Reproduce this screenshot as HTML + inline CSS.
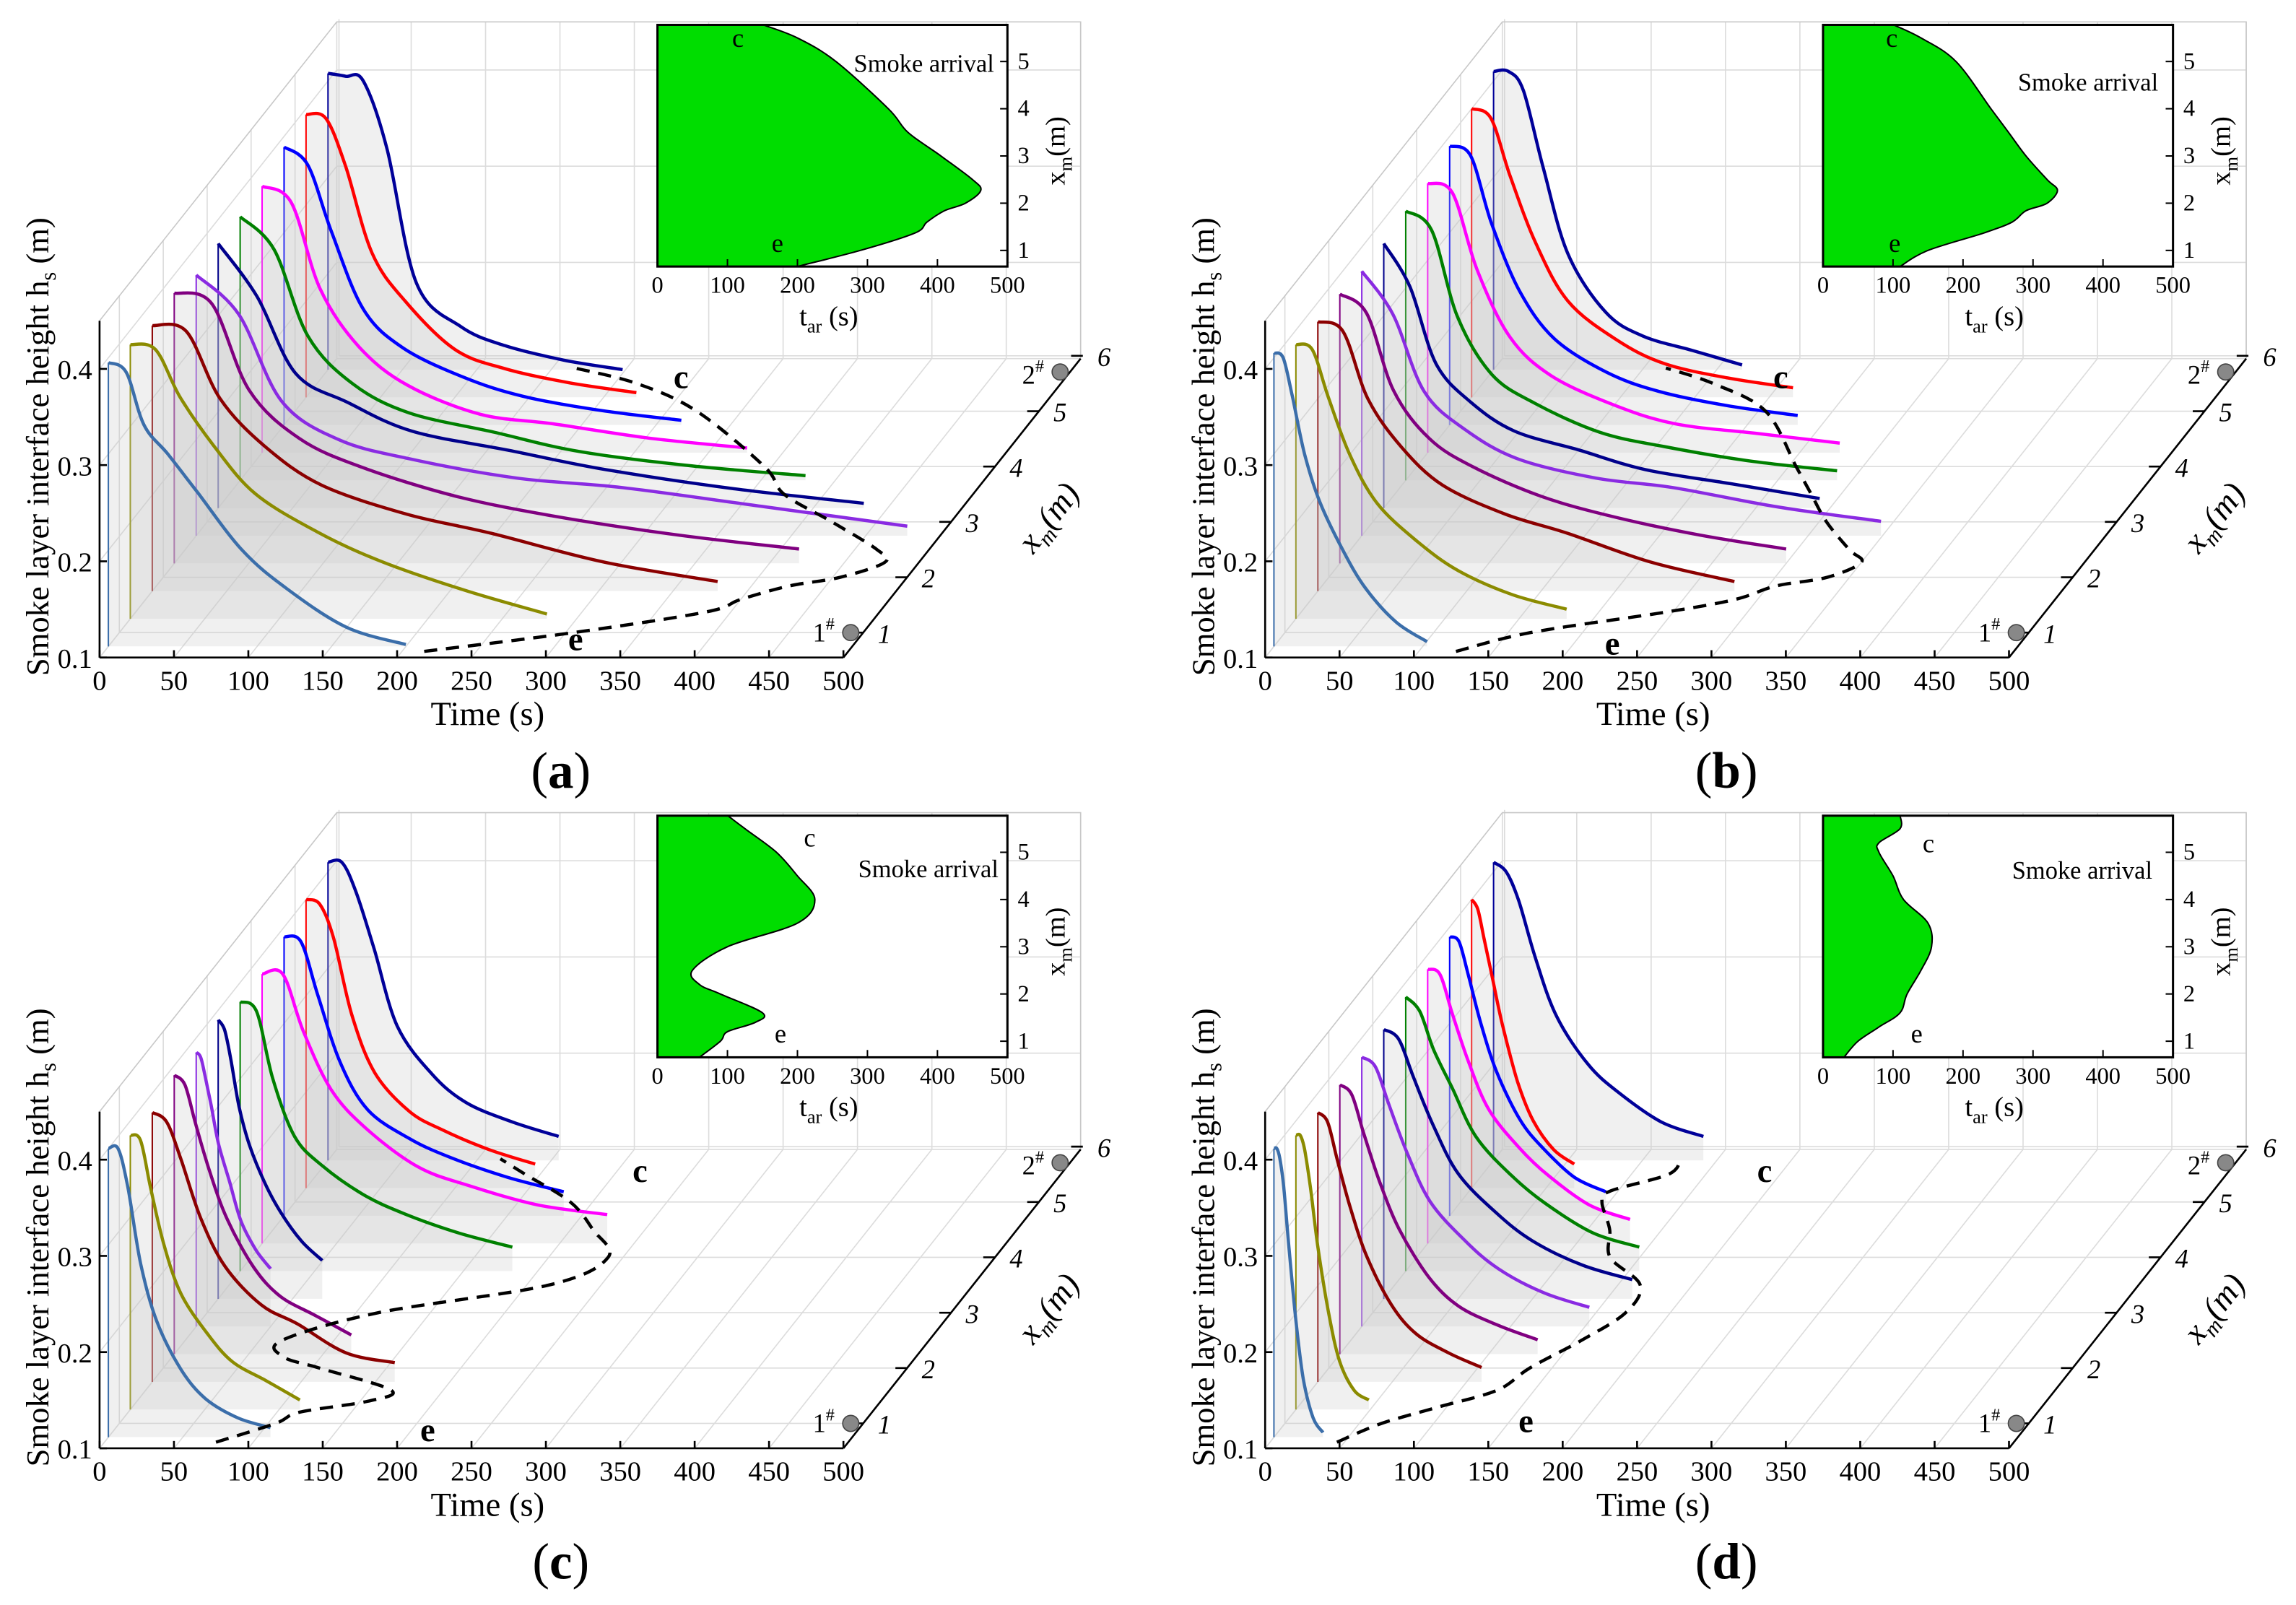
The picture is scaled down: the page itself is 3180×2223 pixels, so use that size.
<!DOCTYPE html>
<html><head><meta charset="utf-8"><style>
html,body{margin:0;padding:0;background:#fff;}
svg{display:block;font-family:"Liberation Serif",serif;}
</style></head><body>
<svg id="fig" xmlns="http://www.w3.org/2000/svg" width="3180" height="2223" viewBox="0 0 1568 1096" preserveAspectRatio="none"></svg>
<script>
// ---- data ----
const colors = ['#3b6eaa','#8b8b00','#8b0000','#800080','#8a2be2','#00008b','#008000','#ff00ff','#0000ff','#ff0000','#000099'];
const curveDepths = [0.75,1.25,1.75,2.25,2.75,3.25,3.75,4.25,4.75,5.25,5.75];
const sampleFractions = [0,0.06,0.12,0.2,0.3,0.45,0.6,0.8,1];
const timeTicks = [0,50,100,150,200,250,300,350,400,450,500];
const heightTicks = [0.1,0.2,0.3,0.4];
const depthTicks = [1,2,3,4,5,6];
const insetTimeTicks = [0,100,200,300,400,500];
const insetDepthTicks = [1,2,3,4,5];

const endsA = [200,280,380,420,478,434,380,326,267,222,198];
const heightsA = [
[.395,.385,.33,.30,.26,.20,.16,.12,.102],
[.385,.38,.33,.28,.23,.19,.16,.13,.105],
[.376,.37,.30,.25,.21,.18,.16,.13,.11],
[.381,.37,.28,.23,.20,.17,.15,.13,.115],
[.371,.33,.24,.20,.18,.16,.15,.13,.11],
[.375,.32,.24,.21,.18,.16,.14,.12,.105],
[.374,.34,.25,.20,.17,.15,.13,.115,.105],
[.377,.36,.27,.21,.17,.14,.13,.115,.105],
[.389,.37,.30,.22,.18,.15,.13,.115,.105],
[.394,.39,.34,.25,.20,.15,.13,.115,.105],
[.408,.405,.40,.33,.19,.145,.125,.11,.10]];
const arrivalDepthA = [0.66,1,1.37,1.6,1.84,2,2.27,2.5,3,3.5,4,5,5.5,5.78];
const arrivalTimeA = [200,290,368,385,410,440,462,450,405,358,330,255,200,150];

const endsB = [103,182,280,300,349,293,290,277,234,216,167];
const heightsB = [
[.405,.40,.36,.30,.25,.20,.16,.125,.105],
[.385,.38,.33,.27,.22,.18,.15,.125,.11],
[.38,.37,.30,.25,.21,.18,.16,.13,.11],
[.38,.36,.28,.23,.20,.17,.15,.13,.115],
[.375,.33,.25,.21,.18,.16,.15,.13,.115],
[.375,.33,.25,.21,.18,.16,.14,.125,.11],
[.38,.36,.27,.21,.18,.15,.135,.12,.11],
[.38,.37,.29,.22,.18,.15,.13,.12,.11],
[.39,.38,.31,.24,.19,.155,.135,.12,.11],
[.40,.39,.33,.26,.20,.16,.135,.12,.11],
[.41,.41,.39,.31,.22,.16,.135,.12,.105]];
const arrivalDepthB = [0.66,1,1.37,1.6,1.84,2,2.27,2.5,3,3.5,4,5,5.5,5.78];
const arrivalTimeB = [110,150,230,270,290,320,335,320,290,265,240,190,140,100];

const endsC = [109,114,163,119,50,70,183,232,188,154,155];
const heightsC = [
[.40,.40,.36,.28,.22,.17,.14,.12,.11],
[.385,.38,.33,.27,.22,.18,.15,.13,.11],
[.38,.37,.33,.27,.22,.18,.16,.13,.12],
[.39,.38,.34,.29,.24,.19,.16,.14,.12],
[.385,.38,.36,.33,.29,.25,.21,.18,.16],
[.39,.38,.35,.30,.26,.22,.19,.16,.14],
[.38,.37,.30,.24,.21,.18,.16,.14,.125],
[.38,.38,.32,.26,.22,.18,.16,.14,.13],
[.39,.385,.33,.26,.21,.18,.16,.14,.125],
[.40,.395,.36,.28,.22,.18,.16,.14,.125],
[.41,.41,.38,.32,.24,.19,.16,.14,.125]];
const arrivalDepthC = [0.66,1,1.2,1.4,1.6,2,2.2,2.5,3,3.5,4,4.5,5,5.5,5.78];
const arrivalTimeC = [60,90,100,140,150,90,60,50,100,200,225,200,170,125,100];

const endsD = [33,49,110,133,153,167,157,136,105,69,141];
const heightsD = [
[.40,.40,.39,.36,.30,.22,.16,.12,.105],
[.385,.385,.37,.33,.27,.20,.15,.12,.11],
[.38,.37,.33,.28,.23,.18,.15,.13,.115],
[.38,.37,.33,.28,.23,.18,.15,.13,.115],
[.38,.37,.33,.28,.23,.19,.16,.135,.12],
[.38,.37,.33,.28,.23,.19,.16,.135,.12],
[.385,.37,.33,.29,.24,.20,.17,.14,.125],
[.385,.38,.34,.29,.24,.20,.17,.14,.125],
[.39,.385,.35,.30,.25,.20,.17,.14,.125],
[.40,.39,.36,.32,.27,.21,.17,.14,.125],
[.41,.40,.37,.31,.25,.20,.17,.14,.125]];
const arrivalDepthD = [0.66,1,1.3,1.6,2,2.5,3,3.5,4,4.5,5,5.2,5.5,5.78];
const arrivalTimeD = [30,50,80,110,120,140,155,150,115,100,80,80,110,110];

// ---- drawing ----
const svg = document.getElementById('fig');
const NS = 'http://www.w3.org/2000/svg';
function mk(tag, attrs, parent){
  const e = document.createElementNS(NS, tag);
  for (const k in attrs) e.setAttribute(k, attrs[k]);
  (parent||svg).appendChild(e);
  return e;
}
function smooth(pts){
  let d = 'M'+pts[0][0].toFixed(1)+','+pts[0][1].toFixed(1);
  for (let i=0;i<pts.length-1;i++){
    const p0=pts[Math.max(0,i-1)], p1=pts[i], p2=pts[i+1], p3=pts[Math.min(pts.length-1,i+2)];
    const c1=[p1[0]+(p2[0]-p0[0])/6, p1[1]+(p2[1]-p0[1])/6];
    const c2=[p2[0]-(p3[0]-p1[0])/6, p2[1]-(p3[1]-p1[1])/6];
    d += ' C'+c1[0].toFixed(1)+','+c1[1].toFixed(1)+' '+c2[0].toFixed(1)+','+c2[1].toFixed(1)+' '+p2[0].toFixed(1)+','+p2[1].toFixed(1);
  }
  return d;
}

function drawPanel(ox, oy, letter, ends, heights, arrD, arrT, lbl){
  const g = mk('g', {});
  
  
  const X = (t,d) => ox + 68 + t*1.016 + (d-0.55)*30;
  const Y = (h,d) => oy + 449 - (d-0.55)*37.8 - (h-0.1)*657;
  const D0 = 0.55, D1 = 5.95, HT = 0.45;
  const grid = mk('g', {stroke:'#dcdcdc','stroke-width':0.8, fill:'none'}, g);
  
  
  timeTicks.forEach(t => {
    mk('line', {x1:X(t,D0), y1:Y(0.1,D0), x2:X(t,D1), y2:Y(0.1,D1)}, grid);
    mk('line', {x1:X(t,D1), y1:Y(0.1,D1), x2:X(t,D1), y2:Y(HT,D1)}, grid);
  });
  heightTicks.forEach(h => {
    mk('line', {x1:X(0,D0), y1:Y(h,D0), x2:X(0,D1), y2:Y(h,D1)}, grid);
    mk('line', {x1:X(0,D1), y1:Y(h,D1), x2:X(500,D1), y2:Y(h,D1)}, grid);
  });
  depthTicks.forEach(d => {
    mk('line', {x1:X(0,d), y1:Y(0.1,d), x2:X(500,d), y2:Y(0.1,d)}, grid);
    mk('line', {x1:X(0,d), y1:Y(0.1,d), x2:X(0,d), y2:Y(HT,d)}, grid);
  });
  mk('polyline', {points:[X(0,D0),Y(HT,D0),X(0,D1),Y(HT,D1),X(500,D1),Y(HT,D1),X(500,D1),Y(0.1,D1)].join(' '), stroke:'#c8c8c8'}, grid);

  for (let i = curveDepths.length-1; i >= 0; i--){
    const d = curveDepths[i];
    const pts = sampleFractions.map((u,k) => [X(u*ends[i], d), Y(heights[i][k], d)]);
    const path = smooth(pts);
    const fill = mk('path', {d: path+' L'+X(ends[i],d).toFixed(1)+','+Y(0.1,d).toFixed(1)+' L'+X(0,d).toFixed(1)+','+Y(0.1,d).toFixed(1)+' Z', fill:'rgba(200,200,200,0.28)', stroke:'none'}, g);
    
    
    const vl = mk('line', {x1:X(0,d), y1:Y(0.1,d), x2:X(0,d), y2:Y(heights[i][0],d), stroke:colors[i], 'stroke-width':1}, g);
    
    
    const cv = mk('path', {d:path, fill:'none', stroke:colors[i], 'stroke-width':2.2}, g);
    
    
  }
  const env = mk('path', {d: smooth(arrD.map((dd,k)=>[X(arrT[k]+15,dd), Y(0.1,dd)])), fill:'none', stroke:'#000', 'stroke-width':2.2, 'stroke-dasharray':'9,6'}, g);
  
  

  const ax = mk('g', {stroke:'#000','stroke-width':1.3, fill:'none'}, g);
  
  
  mk('line', {x1:X(0,D0), y1:Y(0.1,D0), x2:X(500,D0), y2:Y(0.1,D0)}, ax);
  mk('line', {x1:X(0,D0), y1:Y(0.1,D0), x2:X(0,D0), y2:Y(HT,D0)}, ax);
  mk('line', {x1:X(500,D0), y1:Y(0.1,D0), x2:X(500,D1), y2:Y(0.1,D1)}, ax);
  timeTicks.forEach(t => {
    mk('line', {x1:X(t,D0), y1:Y(0.1,D0), x2:X(t,D0), y2:Y(0.1,D0)-5}, ax);
    const tx = mk('text', {x:X(t,D0), y:Y(0.1,D0)+22, 'font-size':19, 'text-anchor':'middle', fill:'#000', stroke:'none'}, g);
    tx.textContent = t;
    
    
  });
  heightTicks.forEach(h => {
    mk('line', {x1:X(0,D0), y1:Y(h,D0), x2:X(0,D0)+5, y2:Y(h,D0)}, ax);
    const tx = mk('text', {x:X(0,D0)-5, y:Y(h,D0)+7, 'font-size':19, 'text-anchor':'end', fill:'#000', stroke:'none'}, g);
    tx.textContent = h.toFixed(1);
    
    
  });
  depthTicks.forEach(d => {
    mk('line', {x1:X(500,d), y1:Y(0.1,d), x2:X(500,d)-8, y2:Y(0.1,d)}, ax);
    const tx = mk('text', {x:X(500,d)+10, y:Y(0.1,d)+7, 'font-size':18, 'font-style':'italic', fill:'#000', stroke:'none'}, g);
    tx.textContent = d;
    
    
  });
  const xt = mk('text', {x:ox+333, y:oy+495, 'font-size':23, 'text-anchor':'middle'}, g);
  xt.textContent = 'Time (s)';
  
  
  const yt = mk('text', {transform:'translate('+(ox+33)+','+(oy+305)+') rotate(-90)', 'font-size':22, 'text-anchor':'middle'}, g);
  yt.innerHTML = 'Smoke layer interface height  h<tspan font-size="15" dy="5">s</tspan><tspan dy="-5"> (m)</tspan>';
  
  
  const dt = mk('text', {transform:'translate('+(ox+722)+','+(oy+358)+') rotate(-52)', 'font-size':23, 'font-style':'italic', 'text-anchor':'middle'}, g);
  dt.innerHTML = 'x<tspan font-size="15" dy="5">m</tspan><tspan dy="-5">(m)</tspan>';
  
  
  const s1 = mk('circle', {cx:ox+581, cy:oy+432, r:5.5, fill:'#888', stroke:'#444', 'stroke-width':0.8}, g);
  
  
  const s1t = mk('text', {x:ox+555, y:oy+438, 'font-size':18}, g);
  s1t.innerHTML = '1<tspan font-size="12" dy="-8">#</tspan>';
  
  
  const s2 = mk('circle', {cx:ox+724, cy:oy+254, r:5.5, fill:'#888', stroke:'#444', 'stroke-width':0.8}, g);
  
  
  const s2t = mk('text', {x:ox+698, y:oy+262, 'font-size':18}, g);
  s2t.innerHTML = '2<tspan font-size="12" dy="-8">#</tspan>';
  
  
  const cl = mk('text', {x:ox+lbl[0], y:oy+lbl[1], 'font-size':23, 'font-weight':'bold'}, g);
  cl.textContent = 'c';
  
  
  const el = mk('text', {x:ox+lbl[2], y:oy+lbl[3], 'font-size':23, 'font-weight':'bold'}, g);
  el.textContent = 'e';
  
  
  const pl = mk('text', {x:ox+lbl[4], y:oy+lbl[5], 'font-size':35, 'text-anchor':'middle'}, g);
  pl.innerHTML = '(<tspan font-weight="bold">'+letter+'</tspan>)';
  
  

  const ig = mk('g', {}, g);
  
  
  const IX = t => ox + 449 + t*0.478;
  const IY = xm => oy + 171 - (xm-1)*32.25;
  mk('rect', {x:ox+449, y:oy+17, width:239, height:165, fill:'#fff'}, ig);
  const prof = arrD.map((xm,k)=>[IX(arrT[k]), IY(xm)]);
  const pd = smooth(prof);
  const ar = mk('path', {d: 'M'+IX(0)+','+IY(arrD[0])+' L'+pd.slice(1)+' L'+IX(0)+','+IY(arrD[arrD.length-1])+' Z', fill:'#00dd00', stroke:'none'}, ig);
  
  
  mk('path', {d:pd, fill:'none', stroke:'#000', 'stroke-width':1}, ig);
  mk('rect', {x:ox+449, y:oy+17, width:239, height:165, fill:'none', stroke:'#000', 'stroke-width':1.5}, ig);
  insetTimeTicks.forEach(t => {
    mk('line', {x1:IX(t), y1:oy+182, x2:IX(t), y2:oy+177, stroke:'#000'}, ig);
    const tx = mk('text', {x:IX(t), y:oy+200, 'font-size':16, 'text-anchor':'middle'}, ig);
    tx.textContent = t;
    
    
  });
  insetDepthTicks.forEach(v => {
    mk('line', {x1:ox+688, y1:IY(v), x2:ox+683, y2:IY(v), stroke:'#000'}, ig);
    const tx = mk('text', {x:ox+695, y:IY(v)+5, 'font-size':16}, ig);
    tx.textContent = v;
    
    
  });
  const it = mk('text', {x:ox+566, y:oy+222, 'font-size':19, 'text-anchor':'middle'}, ig);
  it.innerHTML = 't<tspan font-size="13" dy="5">ar</tspan><tspan dy="-5"> (s)</tspan>';
  
  
  const iy = mk('text', {transform:'translate('+(ox+727)+','+(oy+103)+') rotate(-90)', 'font-size':19, 'text-anchor':'middle'}, ig);
  iy.innerHTML = 'x<tspan font-size="13" dy="5">m</tspan><tspan dy="-5">(m)</tspan>';
  
  
  const sa = mk('text', {x:ox+lbl[10], y:oy+lbl[11], 'font-size':17, 'text-anchor':'middle'}, ig);
  sa.textContent = 'Smoke arrival';
  
  
  const ic = mk('text', {x:ox+lbl[6], y:oy+lbl[7], 'font-size':18}, ig);
  ic.textContent = 'c';
  
  
  const ie = mk('text', {x:ox+lbl[8], y:oy+lbl[9], 'font-size':18}, ig);
  ie.textContent = 'e';
  
  
}

drawPanel(0, 0, 'a', endsA, heightsA, arrivalDepthA, arrivalTimeA, [460,265,388,444,383,538,500,32,527,172,631,49]);
drawPanel(796, 0, 'b', endsB, heightsB, arrivalDepthB, arrivalTimeB, [415,265,300,447,383,538,492,32,494,172,630,62]);
drawPanel(0, 540, 'c', endsC, heightsC, arrivalDepthC, arrivalTimeC, [432,267,287,444,383,538,549,38,529,172,634,59]);
drawPanel(796, 540, 'd', endsD, heightsD, arrivalDepthD, arrivalTimeD, [404,267,241,438,383,538,517,42,509,172,626,60]);
</script>
</body></html>
